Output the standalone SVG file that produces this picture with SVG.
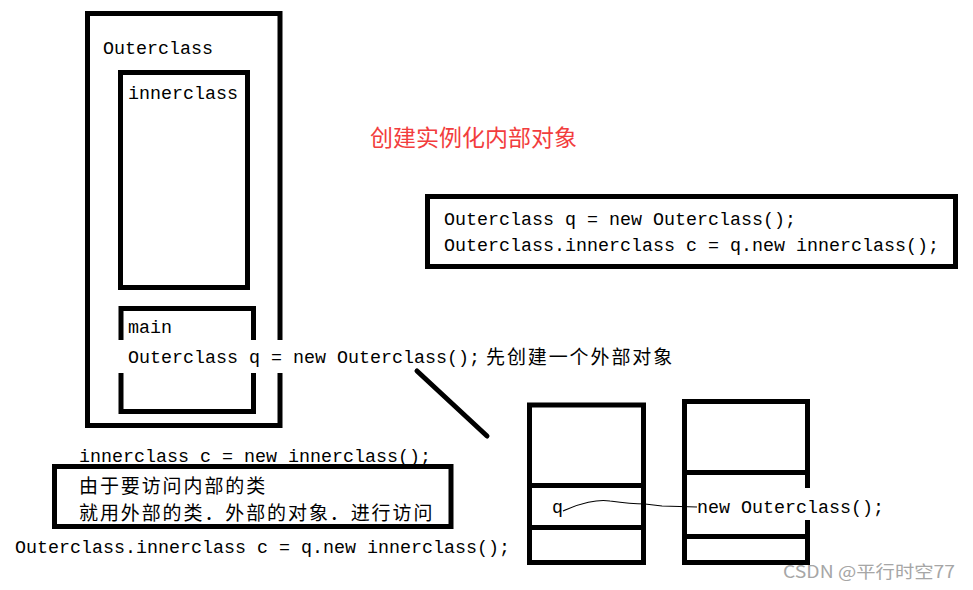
<svg xmlns="http://www.w3.org/2000/svg" width="973" height="590" viewBox="0 0 973 590">
  <style>
    .box{fill:none;stroke:#000;stroke-width:5}
    .mask{fill:#fff;stroke:none}
    .code{font-family:"Liberation Mono","DejaVu Sans Mono",monospace;font-size:18.33px;fill:#000}
    .cjk{font-family:"Noto Sans CJK SC","Noto Sans CJK TC",sans-serif;font-size:19px;letter-spacing:1.9px;fill:#000}
    .title{font-family:"Noto Sans CJK SC",sans-serif;font-size:23px;fill:#f23d3d}
    .wm{font-family:"Noto Sans CJK SC",sans-serif;font-size:17px;fill:#a6a6a6}
  </style>
  <rect width="973" height="590" fill="#fff"/>

  <g id="outerclass">
    <rect class="box" x="87.5" y="13.5" width="192.5" height="412"/>
    <text class="code" x="103" y="54">Outerclass</text>
  </g>
  <g id="innerclass">
    <rect class="box" x="120.5" y="72.5" width="127" height="215"/>
    <text class="code" x="128" y="99">innerclass</text>
  </g>
  <g id="main">
    <rect class="box" x="121" y="308.5" width="132.5" height="103"/>
    <text class="code" x="128" y="333">main</text>
  </g>
  <g id="main-statement">
    <rect class="mask" x="117" y="340" width="565" height="33"/>
    <text class="code" x="128" y="363">Outerclass q = new Outerclass();</text>
    <text class="cjk" x="486" y="364">先创建一个外部对象</text>
  </g>

  <g id="title">
    <text class="title" x="370" y="146">创建实例化内部对象</text>
  </g>

  <g id="code-box">
    <rect class="box" x="427.5" y="196.5" width="528" height="70"/>
    <text class="code" x="444" y="225">Outerclass q = new Outerclass();</text>
    <text class="code" x="444" y="251">Outerclass.innerclass c = q.new innerclass();</text>
  </g>

  <g id="wrong-statement">
    <text class="code" x="79" y="462">innerclass c = new innerclass();</text>
  </g>
  <g id="note-box">
    <rect class="box" x="54.5" y="466.5" width="396.5" height="60"/>
    <text class="cjk" x="79" y="493">由于要访问内部的类</text>
    <text class="cjk" x="79" y="519.5">就用外部的类．外部的对象．进行访问</text>
  </g>
  <g id="right-statement">
    <text class="code" x="15" y="553">Outerclass.innerclass c = q.new innerclass();</text>
  </g>

  <g id="stack">
    <rect class="box" x="529.5" y="405" width="114" height="157.5"/>
    <line class="box" x1="529.5" y1="485.5" x2="643.5" y2="485.5"/>
    <line class="box" x1="529.5" y1="527.5" x2="643.5" y2="527.5"/>
    <text class="code" x="552" y="513">q</text>
  </g>
  <g id="heap">
    <rect class="box" x="684.5" y="401.5" width="123" height="161"/>
    <line class="box" x1="684.5" y1="472.5" x2="807.5" y2="472.5"/>
    <line class="box" x1="684.5" y1="536.5" x2="807.5" y2="536.5"/>
    <rect class="mask" x="697" y="488" width="190" height="32"/>
    <text class="code" x="697" y="513">new Outerclass();</text>
  </g>

  <g id="connectors">
    <line x1="417" y1="371" x2="487" y2="436" stroke="#000" stroke-width="5" stroke-linecap="round"/>
    <path d="M563,511 C580,503 598,499 610,501 C624,503 632,504 645,504 L662,506 L697,507" fill="none" stroke="#000" stroke-width="1.2"/>
  </g>

  <g id="watermark">
    <text class="wm" x="783" y="578" textLength="172" lengthAdjust="spacingAndGlyphs">CSDN @平行时空77</text>
  </g>
</svg>
